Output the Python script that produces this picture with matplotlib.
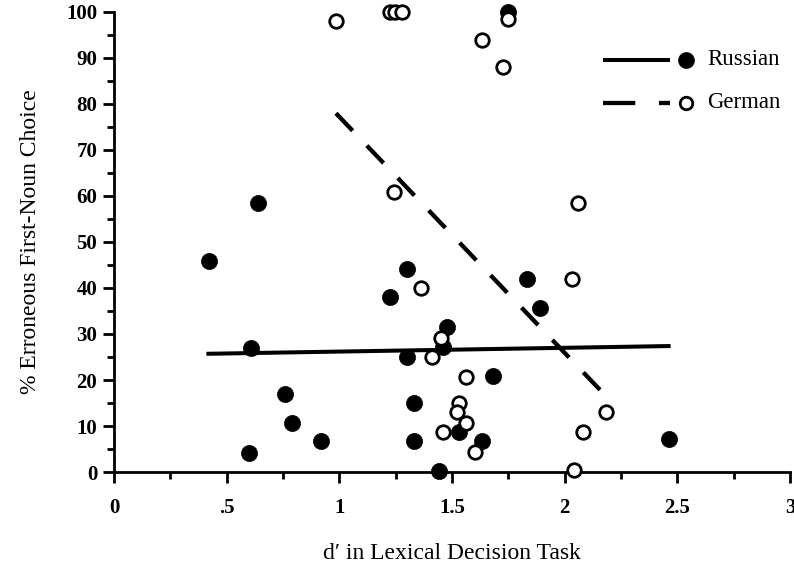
import numpy as np
import matplotlib
matplotlib.use("Agg")
import matplotlib.pyplot as plt
from matplotlib.ticker import MultipleLocator, FixedLocator

# Russian group (filled circles)
russian_d = [0.42, 0.64, 1.30, 1.225, 0.61, 1.30, 1.477, 1.46, 0.76, 0.79, 0.92,
             0.60, 1.333, 1.333, 1.444, 1.832, 1.891, 1.681, 1.533, 1.635, 2.465, 1.75]
russian_pct = [45.9, 58.5, 44.1, 38.1, 27.0, 25.1, 31.6, 27.2, 17.0, 10.6, 6.7,
               4.1, 15.1, 6.7, 0.3, 42.0, 35.6, 20.9, 8.8, 6.8, 7.2, 100.0]

# German group (open circles)
german_d = [0.985, 1.225, 1.247, 1.277, 1.244, 1.75, 1.632, 1.728, 1.361, 1.45, 1.413,
            1.46, 2.061, 2.031, 1.562, 1.533, 1.521, 1.562, 1.602, 2.184, 2.083, 2.042]
german_pct = [98.1, 100.0, 100.0, 100.0, 60.9, 98.4, 93.9, 88.1, 39.9, 29.1, 25.1,
              8.8, 58.5, 42.0, 20.7, 15.1, 13.1, 10.7, 4.3, 13.1, 8.8, 0.4]

# regression lines: (x start, x end, intercept, slope)
russian_fit = (0.41, 2.47, 25.36, 0.82)
german_fit = (0.985, 2.165, 128.5, -51.3)

x_ticks = [0, 0.5, 1, 1.5, 2, 2.5, 3]
x_labels = ["0", ".5", "1", "1.5", "2", "2.5", "3"]
y_ticks = list(range(0, 101, 10))

serif = "Liberation Serif"

fig = plt.figure(figsize=(7.94, 5.66), dpi=100)
ax = fig.add_axes([0.1436, 0.166, 0.8514, 0.813])

ax.scatter(russian_d, russian_pct, s=135, c="black", edgecolors="black",
           linewidths=0.5, clip_on=False, zorder=3)
ax.scatter(german_d, german_pct, s=95, facecolors="white", edgecolors="black",
           linewidths=2.0, clip_on=False, zorder=4)

xr = np.array(russian_fit[:2])
ax.plot(xr, russian_fit[2] + russian_fit[3] * xr, color="black", lw=2.9,
        solid_capstyle="butt", zorder=2)
xg = np.array(german_fit[:2])
ax.plot(xg, german_fit[2] + german_fit[3] * xg, color="black", lw=3.1,
        dashes=(5.6, 4.8), dash_capstyle="butt", zorder=2)

ax.set_xlim(0, 3)
ax.set_ylim(0, 100)
for side in ["top", "right"]:
    ax.spines[side].set_visible(False)
for side in ["left", "bottom"]:
    ax.spines[side].set_linewidth(2.0)

ax.xaxis.set_major_locator(FixedLocator(x_ticks))
ax.set_xticklabels(x_labels)
ax.xaxis.set_minor_locator(MultipleLocator(0.25))
ax.yaxis.set_major_locator(FixedLocator(y_ticks))
ax.yaxis.set_minor_locator(MultipleLocator(5))
ax.tick_params(which="major", direction="out", length=8, width=2, pad=11)
ax.tick_params(which="minor", direction="out", length=5, width=2)
ax.tick_params(axis="y", pad=4)
for lab in ax.get_xticklabels() + ax.get_yticklabels():
    lab.set_fontfamily(serif)
    lab.set_fontweight("bold")
    lab.set_fontsize(15)

ax.set_xlabel("d\u2032 in Lexical Decision Task", fontfamily=serif, fontsize=17, labelpad=18)
ax.set_ylabel("% Erroneous First-Noun Choice", fontfamily=serif, fontsize=17, labelpad=18)

# legend drawn in axes coordinates
tr = ax.transAxes
ax.plot([0.723, 0.822], [0.896, 0.896], color="black", lw=2.9, transform=tr,
        solid_capstyle="butt", clip_on=False)
ax.plot([0.846], [0.896], "o", ms=11, color="black", transform=tr, clip_on=False)
ax.text(0.877, 0.896, "Russian", transform=tr, fontfamily=serif, fontsize=16.5, va="center")
ax.plot([0.723, 0.822], [0.802, 0.802], color="black", lw=3.1, transform=tr,
        dashes=(7.5, 5.5), dash_capstyle="butt", clip_on=False)
ax.plot([0.846], [0.802], "o", ms=9, mfc="white", mec="black", mew=2, transform=tr,
        clip_on=False)
ax.text(0.877, 0.802, "German", transform=tr, fontfamily=serif, fontsize=16.5, va="center")

fig.savefig("out.png", dpi=100)
